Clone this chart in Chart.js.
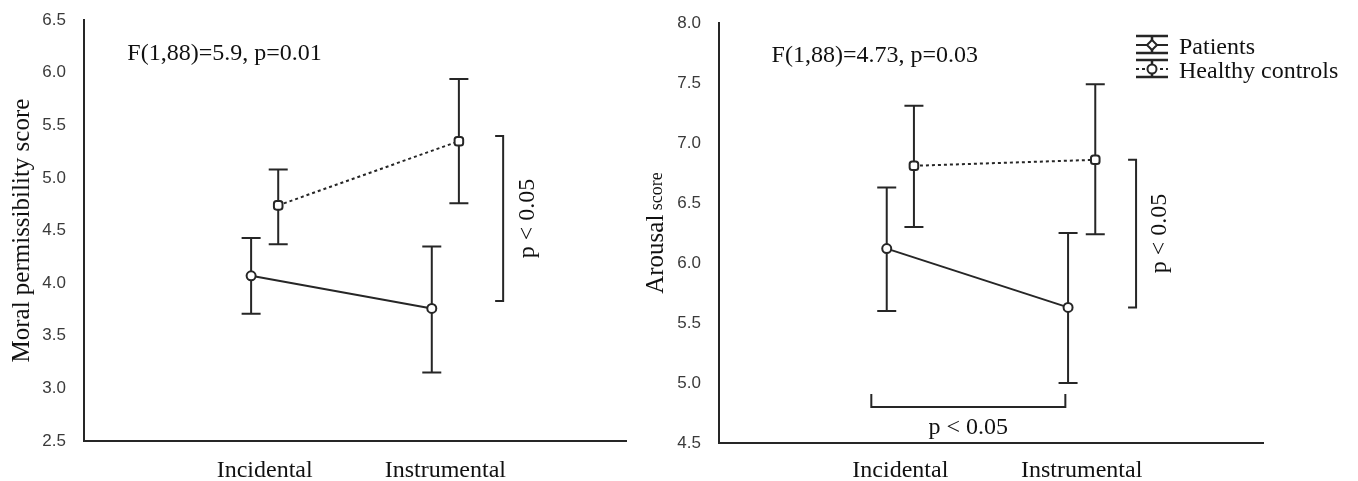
<!DOCTYPE html>
<html>
<head>
<meta charset="utf-8">
<script src="https://cdn.jsdelivr.net/npm/chart.js@4.4.1/dist/chart.umd.min.js"></script>
<style>
  html, body { margin: 0; padding: 0; background: #fff; }
  #wrap { position: relative; width: 1358px; height: 481px; overflow: hidden; }
  canvas { position: absolute; top: 0; }
  #moralChart { left: 0; }
  #arousalChart { left: 630px; }
</style>
</head>
<body>
<div id="wrap">
  <canvas id="moralChart" width="680" height="481"></canvas>
  <canvas id="arousalChart" width="728" height="481"></canvas>
</div>
<script>
// categories and groups
const categories = ['Incidental', 'Instrumental'];
const groups = ['Patients', 'Healthy controls'];

// left panel: moral permissibility (mean, lower and upper error bar ends)
const moralPatients = [4.07, 3.76];
const moralPatientsLow = [3.71, 3.15];
const moralPatientsHigh = [4.43, 4.35];
const moralHealthy = [4.74, 5.35];
const moralHealthyLow = [4.37, 4.76];
const moralHealthyHigh = [5.08, 5.94];
const moralTicks = [2.5, 3.0, 3.5, 4.0, 4.5, 5.0, 5.5, 6.0, 6.5];

// right panel: arousal
const arousalPatients = [6.12, 5.63];
const arousalPatientsLow = [5.60, 5.00];
const arousalPatientsHigh = [6.63, 6.25];
const arousalHealthy = [6.81, 6.86];
const arousalHealthyLow = [6.30, 6.24];
const arousalHealthyHigh = [7.31, 7.49];
const arousalTicks = [4.5, 5.0, 5.5, 6.0, 6.5, 7.0, 7.5, 8.0];

const INK = '#262626';
const SERIF = "'Liberation Serif', 'Times New Roman', serif";
const SANS = "'Liberation Sans', Arial, sans-serif";
const shift = 0.075; // groups sit a little left / right of the category

function points(vals, dx) {
  return vals.map((v, i) => ({ x: i + 1 + dx, y: v }));
}

function makeDatasets(pm, pl, ph, hm, hl, hh) {
  return [{
    label: groups[0],
    data: points(pm, -shift),
    errLow: pl, errHigh: ph,
    borderColor: INK, borderWidth: 2,
    pointStyle: 'circle', pointRadius: 4.5,
    pointBackgroundColor: '#fff', pointBorderColor: INK, pointBorderWidth: 2
  }, {
    label: groups[1],
    data: points(hm, shift),
    errLow: hl, errHigh: hh,
    borderColor: INK, borderWidth: 2, borderDash: [3, 3],
    pointStyle: 'rectRounded', pointRadius: 5,
    pointBackgroundColor: '#fff', pointBorderColor: INK, pointBorderWidth: 2
  }];
}

// error bars, brackets, stat text, axis title, legend
function extras(cfg) {
  return {
    id: 'extras',
    beforeDatasetsDraw(chart) {
      const ctx = chart.ctx, xs = chart.scales.x, ys = chart.scales.y;
      ctx.save();
      ctx.strokeStyle = INK;
      ctx.lineWidth = 2;
      chart.data.datasets.forEach(ds => {
        ds.data.forEach((p, i) => {
          const x = xs.getPixelForValue(p.x);
          const yl = ys.getPixelForValue(ds.errLow[i]);
          const yh = ys.getPixelForValue(ds.errHigh[i]);
          ctx.beginPath();
          ctx.moveTo(x, yl); ctx.lineTo(x, yh);
          ctx.moveTo(x - 9.5, yl); ctx.lineTo(x + 9.5, yl);
          ctx.moveTo(x - 9.5, yh); ctx.lineTo(x + 9.5, yh);
          ctx.stroke();
        });
      });
      ctx.restore();
    },
    afterDraw(chart) {
      const ctx = chart.ctx, xs = chart.scales.x, ys = chart.scales.y;
      const area = chart.chartArea;
      ctx.save();
      ctx.fillStyle = '#111';
      ctx.strokeStyle = INK;
      ctx.lineWidth = 2;

      // statistic
      ctx.font = '24px ' + SERIF;
      ctx.textAlign = 'left';
      ctx.textBaseline = 'middle';
      ctx.fillText(cfg.stat.text, xs.getPixelForValue(cfg.stat.x), ys.getPixelForValue(cfg.stat.y));

      // brackets
      cfg.brackets.forEach(b => {
        ctx.beginPath();
        if (b.dir === 'v') {
          const x = xs.getPixelForValue(b.at);
          const y1 = ys.getPixelForValue(b.from), y2 = ys.getPixelForValue(b.to);
          ctx.moveTo(x - 8, y1); ctx.lineTo(x, y1); ctx.lineTo(x, y2); ctx.lineTo(x - 8, y2);
          ctx.stroke();
          ctx.save();
          ctx.translate(xs.getPixelForValue(b.labelAt), (y1 + y2) / 2);
          ctx.rotate(-Math.PI / 2);
          ctx.textAlign = 'center';
          ctx.textBaseline = 'middle';
          ctx.fillText('p < 0.05', 0, 0);
          ctx.restore();
        } else {
          const y = ys.getPixelForValue(b.at);
          const x1 = xs.getPixelForValue(b.from), x2 = xs.getPixelForValue(b.to);
          ctx.moveTo(x1, y - 13); ctx.lineTo(x1, y); ctx.lineTo(x2, y); ctx.lineTo(x2, y - 13);
          ctx.stroke();
          ctx.textAlign = 'center';
          ctx.textBaseline = 'middle';
          ctx.fillText('p < 0.05', (x1 + x2) / 2 + 0, ys.getPixelForValue(b.labelAt));
        }
      });

      // y axis title
      ctx.save();
      ctx.translate(cfg.titleX, (area.top + area.bottom) / 2);
      ctx.rotate(-Math.PI / 2);
      ctx.textBaseline = 'middle';
      ctx.textAlign = 'left';
      const bigFont = '25px ' + SERIF, smallFont = '18px ' + SERIF;
      ctx.font = bigFont;
      const w1 = ctx.measureText(cfg.title[0]).width;
      let w2 = 0;
      if (cfg.title[1]) {
        ctx.font = smallFont;
        w2 = ctx.measureText(' ' + cfg.title[1]).width;
      }
      const start = -(w1 + w2) / 2;
      ctx.font = bigFont;
      ctx.fillText(cfg.title[0], start, 0);
      if (cfg.title[1]) {
        ctx.font = smallFont;
        ctx.fillText(' ' + cfg.title[1], start + w1, 1);
      }
      ctx.restore();

      // legend
      if (cfg.legend) {
        const lx = area.right - 127, tx = lx + 43;
        ctx.font = '24px ' + SERIF;
        ctx.textAlign = 'left';
        ctx.textBaseline = 'middle';
        chart.data.datasets.forEach((ds, i) => {
          const y0 = 36 + i * 24, cx = lx + 16;
          ctx.lineWidth = 2.5;
          ctx.setLineDash([]);
          ctx.beginPath();
          ctx.moveTo(lx, y0); ctx.lineTo(lx + 32, y0);
          ctx.moveTo(lx, y0 + 17); ctx.lineTo(lx + 32, y0 + 17);
          ctx.moveTo(cx, y0); ctx.lineTo(cx, y0 + 17);
          ctx.stroke();
          ctx.lineWidth = 2;
          if (i === 1) ctx.setLineDash([3, 3]);
          ctx.beginPath();
          ctx.moveTo(lx, y0 + 9); ctx.lineTo(lx + 32, y0 + 9);
          ctx.stroke();
          ctx.setLineDash([]);
          ctx.fillStyle = '#fff';
          ctx.beginPath();
          if (i === 0) {
            ctx.moveTo(cx, y0 + 4); ctx.lineTo(cx + 5, y0 + 9); ctx.lineTo(cx, y0 + 14); ctx.lineTo(cx - 5, y0 + 9); ctx.closePath();
          } else {
            ctx.arc(cx, y0 + 9, 4.5, 0, Math.PI * 2);
          }
          ctx.fill(); ctx.stroke();
          ctx.fillStyle = '#111';
          ctx.fillText(ds.label, tx, y0 + 12);
        });
      }
      ctx.restore();
    }
  };
}

function makeChart(id, datasets, ticks, yWidth, xHeight, xPad, padding, cfg) {
  return new Chart(document.getElementById(id), {
    type: 'line',
    data: { datasets },
    options: {
      responsive: false,
      animation: false,
      devicePixelRatio: 1,
      layout: { padding },
      plugins: { legend: { display: false }, tooltip: { enabled: false } },
      scales: {
        x: {
          type: 'linear', min: 0, max: 3,
          afterBuildTicks: s => { s.ticks = categories.map((c, i) => ({ value: i + 1 })); },
          afterFit: s => { s.height = xHeight; },
          grid: { display: false },
          border: { display: true, color: INK, width: 2 },
          ticks: {
            callback: v => categories[v - 1] || '',
            font: { family: SERIF, size: 24 }, color: '#111', padding: xPad,
            maxRotation: 0
          }
        },
        y: {
          type: 'linear', min: ticks[0], max: ticks[ticks.length - 1],
          afterBuildTicks: s => { s.ticks = ticks.map(v => ({ value: v })); },
          afterFit: s => { s.width = yWidth; },
          grid: { display: false },
          border: { display: true, color: INK, width: 2 },
          ticks: {
            callback: v => Number(v).toFixed(1),
            font: { family: SANS, size: 17 }, color: '#3a3a3a', padding: 10
          }
        }
      }
    },
    plugins: [extras(cfg)]
  });
}

makeChart('moralChart',
  makeDatasets(moralPatients, moralPatientsLow, moralPatientsHigh, moralHealthy, moralHealthyLow, moralHealthyHigh),
  moralTicks, 84, 40, 7, { top: 20, right: 54, bottom: 0, left: 0 },
  {
    stat: { text: 'F(1,88)=5.9, p=0.01', x: 0.24, y: 6.18 },
    brackets: [{ dir: 'v', at: 2.32, from: 5.40, to: 3.83, labelAt: 2.455 }],
    title: ['Moral permissibility score'], titleX: 22, legend: false
  });

makeChart('arousalChart',
  makeDatasets(arousalPatients, arousalPatientsLow, arousalPatientsHigh, arousalHealthy, arousalHealthyLow, arousalHealthyHigh),
  arousalTicks, 89, 38, 5, { top: 23, right: 95, bottom: 0, left: 0 },
  {
    stat: { text: 'F(1,88)=4.73, p=0.03', x: 0.29, y: 7.73 },
    brackets: [
      { dir: 'v', at: 2.30, from: 6.86, to: 5.63, labelAt: 2.43 },
      { dir: 'h', at: 4.80, from: 0.84, to: 1.91, labelAt: 4.625 }
    ],
    title: ['Arousal', 'score'], titleX: 26, legend: true
  });
</script>
</body>
</html>
